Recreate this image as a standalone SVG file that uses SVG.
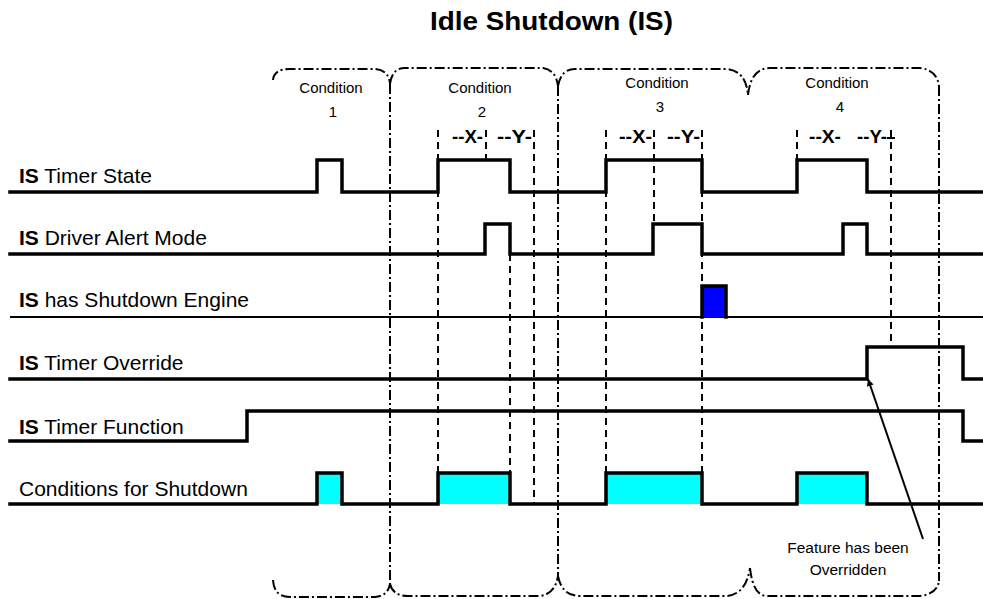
<svg xmlns="http://www.w3.org/2000/svg" width="983" height="599" viewBox="0 0 983 599">
<style>
.sig{fill:none;stroke:#000;stroke-width:3.5;stroke-linejoin:miter;stroke-linecap:square}
.thin{fill:none;stroke:#000;stroke-width:2}
.dash{fill:none;stroke:#000;stroke-width:2;stroke-dasharray:7,5}
.dd{fill:none;stroke:#000;stroke-width:2;stroke-dasharray:10,3,2,3}
.lbl{font-family:"Liberation Sans",Arial,sans-serif;font-size:21px;fill:#000}
.cond{font-family:"Liberation Sans",Arial,sans-serif;font-size:15px;fill:#000;text-anchor:middle}
.note{font-family:"Liberation Sans",Arial,sans-serif;font-size:15.5px;fill:#000;text-anchor:middle}
.xy{font-family:"Liberation Sans",Arial,sans-serif;font-size:18px;font-weight:bold;fill:#000}
.title{font-family:"Liberation Sans",Arial,sans-serif;font-size:26px;font-weight:bold;fill:#000}
</style>
<defs>
<marker id="ah" viewBox="0 0 10 10" refX="10" refY="5" markerWidth="7" markerHeight="8" orient="auto" markerUnits="userSpaceOnUse">
<path d="M0,0 L10,5 L0,10 z" fill="#000"/>
</marker>
</defs>
<rect width="983" height="599" fill="#fff"/>
<text class="title" x="430" y="30" textLength="243" lengthAdjust="spacingAndGlyphs">Idle Shutdown (IS)</text>

<g id="brackets">
<path class="dd" d="M273,80 Q274,69 290,69 L375,69 Q389,70 390,84"/>
<path class="dd" d="M390,84 Q392,68 405,68 L543,68 Q556,70 558,86"/>
<path class="dd" d="M558,86 Q561,69 575,69 L727,69 Q746,71 748,95"/>
<path class="dd" d="M748,95 Q751,68 770,68 L920,68 Q937,70 939,86"/>
<path class="dd" d="M390,84 V584"/>
<path class="dd" d="M558,86 V576"/>
<path class="dd" d="M939,86 V581"/>
<path class="dd" d="M273,580 Q274,597 290,597 L375,597 Q388,596 390,584"/>
<path class="dd" d="M390,584 Q393,596 408,596 L540,596 Q555,594 558,576"/>
<path class="dd" d="M558,576 Q562,596 580,596 L727,596 Q746,594 750,568"/>
<path class="dd" d="M750,568 Q753,596 767,596 L920,596 Q937,594 939,581"/>
</g>

<g id="condition-labels">
<text class="cond" x="331" y="93">Condition</text>
<text class="cond" x="333" y="117">1</text>
<text class="cond" x="480" y="93">Condition</text>
<text class="cond" x="482" y="117">2</text>
<text class="cond" x="657" y="88">Condition</text>
<text class="cond" x="660" y="112">3</text>
<text class="cond" x="837" y="88">Condition</text>
<text class="cond" x="840" y="112">4</text>
</g>

<g id="markers">
<path class="dash" d="M438,130 V505 M486,130 V160 M510,254 V505 M534,130 V505 M606,130 V505 M654,130 V224 M702,130 V505 M797,130 V160 M891,130 V347"/>
<path class="thin" d="M887,138 H895"/>
<text class="xy" x="452" y="143" textLength="31" lengthAdjust="spacingAndGlyphs">--X-</text>
<text class="xy" x="497" y="143" textLength="35" lengthAdjust="spacingAndGlyphs">--Y-</text>
<text class="xy" x="619" y="143" textLength="33" lengthAdjust="spacingAndGlyphs">--X-</text>
<text class="xy" x="667" y="143" textLength="33" lengthAdjust="spacingAndGlyphs">--Y-</text>
<text class="xy" x="809" y="143" textLength="32" lengthAdjust="spacingAndGlyphs">--X-</text>
<text class="xy" x="857" y="143" textLength="30" lengthAdjust="spacingAndGlyphs">--Y-</text>
</g>

<g id="timer-state">
<text class="lbl" x="19" y="183"><tspan font-weight="bold">IS</tspan> Timer State</text>
<path class="sig" d="M10,192 H317 V160 H342 V192 H438 V160 H510 V192 H606 V160 H702 V192 H797 V160 H867 V192 H983"/>
</g>
<g id="driver-alert">
<text class="lbl" x="19" y="245"><tspan font-weight="bold">IS</tspan> Driver Alert Mode</text>
<path class="sig" d="M10,254 H485 V224 H510 V254 H653 V224 H702 V254 H843 V224 H867 V254 H983"/>
</g>
<g id="shutdown-engine">
<text class="lbl" x="19" y="307"><tspan font-weight="bold">IS</tspan> has Shutdown Engine</text>
<path class="thin" d="M10,317 H983"/>
<rect x="702" y="286" width="24" height="31" fill="#0000ff"/>
<path class="sig" d="M702,317 V286 H726 V317"/>
</g>
<g id="timer-override">
<text class="lbl" x="19" y="370"><tspan font-weight="bold">IS</tspan> Timer Override</text>
<path class="sig" d="M10,379 H867 V347 H963 V379 H983"/>
</g>
<g id="timer-function">
<text class="lbl" x="19" y="434"><tspan font-weight="bold">IS</tspan> Timer Function</text>
<path class="sig" d="M10,441 H247 V411 H963 V441 H983"/>
</g>
<g id="conditions-shutdown">
<text class="lbl" x="19" y="496">Conditions for Shutdown</text>
<g fill="#00ffff">
<rect x="317" y="473" width="25" height="31"/>
<rect x="438" y="473" width="72" height="31"/>
<rect x="606" y="473" width="96" height="31"/>
<rect x="797" y="473" width="70" height="31"/>
</g>
<path class="sig" d="M10,504 H317 V473 H342 V504 H438 V473 H510 V504 H606 V473 H702 V504 H797 V473 H867 V504 H983"/>
</g>

<g id="connectors">
<line x1="923" y1="539" x2="868" y2="379" stroke="#000" stroke-width="2" marker-end="url(#ah)"/>
</g>
<g id="note">
<text class="note" x="848" y="553">Feature has been</text>
<text class="note" x="848" y="575">Overridden</text>
</g>
</svg>
